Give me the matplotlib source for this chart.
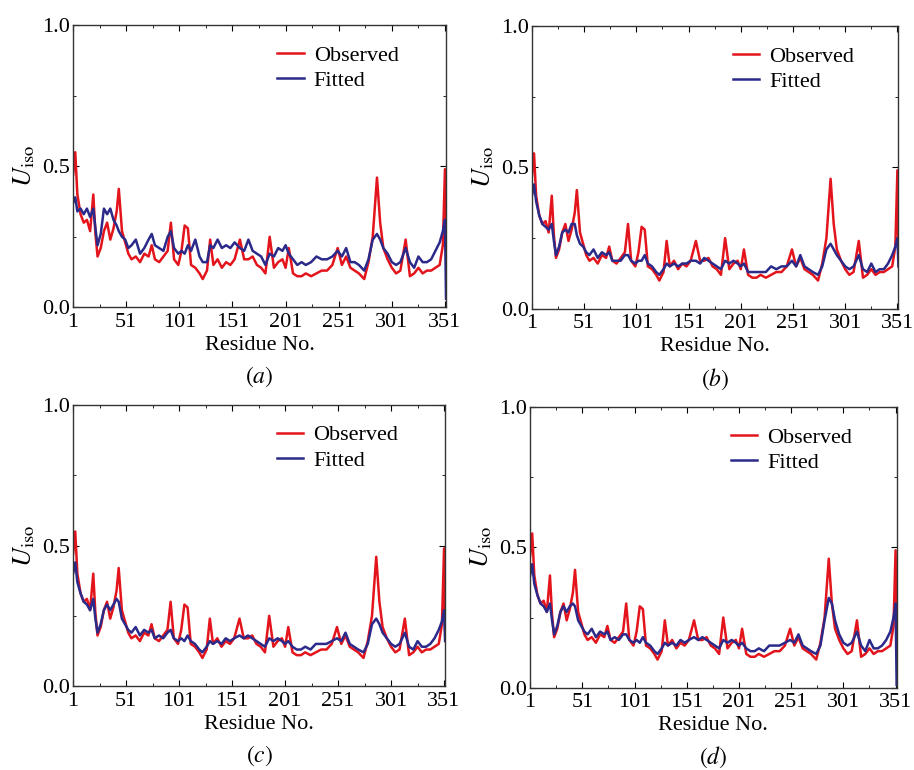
import matplotlib
matplotlib.use("Agg")
import matplotlib.pyplot as plt

plt.rcParams['font.family'] = ['Liberation Serif', 'DejaVu Serif']
plt.rcParams['mathtext.fontset'] = 'stix'

res = [1, 3, 5, 8, 11, 14, 17, 20, 22, 24, 27, 30, 33, 36, 39, 42, 44, 47, 50,
       53, 56, 60, 64, 68, 72, 75, 78, 82, 86, 90, 93, 96, 100, 103, 106, 109,
       112, 116, 120, 123, 127, 130, 133, 137, 141, 145, 149, 153, 158, 162,
       166, 170, 174, 178, 182, 186, 190, 194, 198, 201, 204, 208, 212, 216,
       220, 225, 230, 235, 240, 245, 250, 254, 258, 262, 266, 270, 275, 279,
       283, 287, 290, 293, 297, 301, 305, 309, 314, 318, 322, 326, 330, 334,
       338, 342, 346, 349, 351, 352]

observed = [0.47, 0.55, 0.40, 0.33, 0.30, 0.31, 0.27, 0.40, 0.26, 0.18, 0.21,
            0.27, 0.30, 0.24, 0.28, 0.34, 0.42, 0.27, 0.23, 0.19, 0.17, 0.18,
            0.16, 0.19, 0.18, 0.22, 0.17, 0.16, 0.18, 0.20, 0.30, 0.17, 0.15,
            0.20, 0.29, 0.28, 0.15, 0.14, 0.12, 0.10, 0.13, 0.24, 0.15, 0.17,
            0.14, 0.16, 0.15, 0.17, 0.24, 0.17, 0.17, 0.18, 0.15, 0.14, 0.12,
            0.25, 0.14, 0.16, 0.17, 0.14, 0.21, 0.12, 0.11, 0.11, 0.12, 0.11,
            0.12, 0.13, 0.13, 0.15, 0.21, 0.15, 0.18, 0.14, 0.13, 0.12, 0.10,
            0.16, 0.25, 0.46, 0.30, 0.21, 0.17, 0.14, 0.12, 0.13, 0.24, 0.11,
            0.12, 0.14, 0.12, 0.13, 0.13, 0.14, 0.15, 0.22, 0.49, 0.20]

fitted_a = [0.37, 0.39, 0.34, 0.35, 0.33, 0.35, 0.32, 0.35, 0.28, 0.22, 0.26,
            0.35, 0.33, 0.35, 0.31, 0.29, 0.27, 0.25, 0.24, 0.21, 0.22, 0.24,
            0.19, 0.21, 0.24, 0.26, 0.22, 0.21, 0.20, 0.25, 0.27, 0.21, 0.19,
            0.20, 0.19, 0.22, 0.20, 0.24, 0.18, 0.16, 0.16, 0.22, 0.21, 0.24,
            0.21, 0.22, 0.21, 0.23, 0.21, 0.20, 0.24, 0.20, 0.19, 0.18, 0.15,
            0.19, 0.18, 0.21, 0.20, 0.22, 0.19, 0.17, 0.15, 0.16, 0.15, 0.16,
            0.18, 0.17, 0.17, 0.18, 0.20, 0.18, 0.21, 0.16, 0.16, 0.15, 0.13,
            0.17, 0.24, 0.26, 0.24, 0.21, 0.19, 0.16, 0.15, 0.16, 0.21, 0.16,
            0.14, 0.18, 0.16, 0.16, 0.17, 0.20, 0.23, 0.27, 0.31, 0.03]

fitted_b = [0.40, 0.44, 0.38, 0.33, 0.30, 0.29, 0.28, 0.30, 0.24, 0.19, 0.22,
            0.27, 0.28, 0.27, 0.30, 0.30, 0.26, 0.23, 0.22, 0.20, 0.19, 0.21,
            0.18, 0.20, 0.19, 0.20, 0.17, 0.17, 0.17, 0.19, 0.19, 0.17, 0.16,
            0.17, 0.17, 0.19, 0.16, 0.15, 0.13, 0.12, 0.14, 0.16, 0.15, 0.16,
            0.15, 0.16, 0.16, 0.17, 0.17, 0.16, 0.18, 0.17, 0.16, 0.15, 0.14,
            0.17, 0.16, 0.17, 0.16, 0.15, 0.16, 0.13, 0.13, 0.13, 0.13, 0.13,
            0.15, 0.14, 0.15, 0.15, 0.17, 0.15, 0.19, 0.15, 0.14, 0.13, 0.12,
            0.15, 0.21, 0.23, 0.21, 0.19, 0.17, 0.15, 0.14, 0.15, 0.19, 0.14,
            0.13, 0.16, 0.13, 0.14, 0.14, 0.16, 0.19, 0.22, 0.25, 0.15]

fitted_c = [0.40, 0.44, 0.37, 0.33, 0.30, 0.29, 0.27, 0.31, 0.24, 0.19, 0.22,
            0.27, 0.29, 0.27, 0.29, 0.31, 0.30, 0.24, 0.22, 0.20, 0.19, 0.21,
            0.18, 0.20, 0.19, 0.20, 0.17, 0.18, 0.17, 0.19, 0.20, 0.17, 0.16,
            0.17, 0.16, 0.18, 0.16, 0.15, 0.13, 0.12, 0.14, 0.16, 0.15, 0.16,
            0.15, 0.17, 0.16, 0.17, 0.18, 0.17, 0.18, 0.17, 0.16, 0.15, 0.14,
            0.17, 0.16, 0.17, 0.16, 0.15, 0.16, 0.14, 0.13, 0.13, 0.14, 0.13,
            0.15, 0.15, 0.15, 0.16, 0.17, 0.16, 0.19, 0.15, 0.14, 0.13, 0.12,
            0.15, 0.22, 0.24, 0.22, 0.19, 0.17, 0.15, 0.14, 0.15, 0.19, 0.14,
            0.13, 0.16, 0.14, 0.14, 0.15, 0.17, 0.20, 0.23, 0.27, 0.16]

fitted_d = [0.40, 0.44, 0.37, 0.33, 0.30, 0.29, 0.27, 0.30, 0.24, 0.19, 0.22,
            0.27, 0.29, 0.27, 0.29, 0.30, 0.29, 0.24, 0.22, 0.20, 0.19, 0.21,
            0.18, 0.20, 0.19, 0.20, 0.17, 0.18, 0.17, 0.19, 0.19, 0.17, 0.16,
            0.17, 0.16, 0.18, 0.16, 0.15, 0.13, 0.12, 0.14, 0.16, 0.15, 0.16,
            0.15, 0.17, 0.16, 0.17, 0.18, 0.17, 0.18, 0.17, 0.16, 0.15, 0.14,
            0.17, 0.16, 0.17, 0.16, 0.15, 0.16, 0.14, 0.13, 0.13, 0.14, 0.13,
            0.15, 0.15, 0.15, 0.16, 0.17, 0.16, 0.19, 0.15, 0.14, 0.13, 0.12,
            0.15, 0.24, 0.32, 0.30, 0.24, 0.19, 0.16, 0.15, 0.16, 0.20, 0.15,
            0.13, 0.17, 0.14, 0.14, 0.15, 0.17, 0.20, 0.25, 0.30, 0.01]

panels = ['a', 'b', 'c', 'd']
fits = [fitted_a, fitted_b, fitted_c, fitted_d]
xticks = [1, 51, 101, 151, 201, 251, 301, 351]

red = '#e3141c'
navy = '#2b2a8a'

fig = plt.figure(figsize=(9.14, 7.70), dpi=100)

# axes boxes [left, bottom, width, height] in figure fractions
boxes = [[0.080, 0.601, 0.408, 0.366],
         [0.582, 0.599, 0.401, 0.367],
         [0.080, 0.109, 0.407, 0.365],
         [0.580, 0.107, 0.401, 0.364]]

for box, fit, tag in zip(boxes, fits, panels):
    ax = fig.add_axes(box)
    ax.plot(res, observed, color=red, lw=1.8, label='Observed')
    ax.plot(res, fit, color=navy, lw=1.8, label='Fitted')
    ax.set_xlim(1, 352)
    ax.set_ylim(0, 1.0)
    ax.set_xticks(xticks)
    ax.set_xticks([26, 76, 126, 176, 226, 276, 326], minor=True)
    ax.set_yticks([0.0, 0.5, 1.0])
    ax.set_yticklabels(['0.0', '0.5', '1.0'])
    ax.set_yticks([0.25, 0.75], minor=True)
    ax.tick_params(which='both', direction='in', top=True, right=True,
                   labelsize=16, pad=4)
    ax.tick_params(axis='y', pad=2)
    ax.tick_params(which='major', length=4)
    ax.tick_params(which='minor', length=2.5)
    for s in ax.spines.values():
        s.set_linewidth(1.0)
        s.set_color('#333333')
    ax.set_xlabel('Residue No.', fontsize=16, labelpad=3)
    ax.set_ylabel(r'$U_{\rm iso}$', fontsize=19, labelpad=4)
    ax.legend(loc='upper left', bbox_to_anchor=(0.505, 0.985), frameon=False,
              fontsize=16, handlelength=1.2, handletextpad=0.45,
              labelspacing=0.22, borderaxespad=0.3)
    ax.text(0.5, -0.248, r'$(\mathit{' + tag + '})$', transform=ax.transAxes,
            ha='center', va='center', fontsize=17)

fig.savefig('out.png', dpi=100)
